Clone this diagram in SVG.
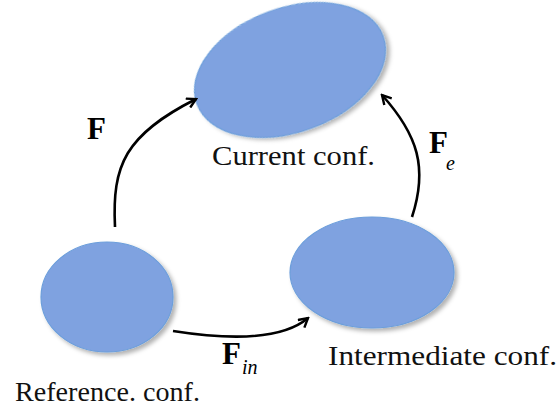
<svg xmlns="http://www.w3.org/2000/svg" width="560" height="416" viewBox="0 0 560 416">
<style>
.node{fill:#7FA2E0;stroke:#6C9EDB;stroke-width:1.2;filter:url(#sh)}
.lbl{font-family:"Liberation Serif","Times New Roman",serif;font-size:26.5px;fill:#111}
.bf{font-family:"Liberation Serif","Times New Roman",serif;font-weight:bold;font-size:31px;fill:#000}
.sub{font-family:"Liberation Serif","Times New Roman",serif;font-style:italic;font-size:20px;fill:#000}
.edge{fill:none;stroke:#000;stroke-width:2.6;marker-end:url(#ah)}
</style>
<defs>
<filter id="sh" x="-20%" y="-20%" width="140%" height="140%">
<feDropShadow dx="3" dy="3" stdDeviation="2.2" flood-color="#000" flood-opacity="0.3"/>
</filter>
<marker id="ah" viewBox="0 0 12 12" refX="10" refY="6" markerWidth="12" markerHeight="12" markerUnits="userSpaceOnUse" orient="auto">
<path d="M1,1 L10,6 L1,11" fill="none" stroke="#000" stroke-width="2.4"/>
</marker>
</defs>
<rect width="560" height="416" fill="#fff"/>
<g id="current">
<ellipse class="node" cx="290" cy="70" rx="99" ry="62" transform="rotate(-20 290 70)"/>
<text class="lbl" x="212" y="165" textLength="163" lengthAdjust="spacingAndGlyphs">Current conf.</text>
</g>
<g id="reference">
<ellipse class="node" cx="107" cy="297" rx="66" ry="55"/>
<text class="lbl" x="15" y="401" textLength="185" lengthAdjust="spacingAndGlyphs">Reference. conf.</text>
</g>
<g id="intermediate">
<ellipse class="node" cx="372" cy="272.5" rx="82" ry="55.5"/>
<text class="lbl" x="328" y="365" textLength="229" lengthAdjust="spacingAndGlyphs">Intermediate conf.</text>
</g>
<g id="connectors">
<path class="edge" d="M115,227 C112,165 125,135 196,99"/>
<path class="edge" d="M412,217 C428,168 418,135 382,95"/>
<path class="edge" d="M173,331 C230,340 282,340 308,318"/>
<text class="bf" x="87" y="139">F</text>
<text class="bf" x="429" y="153">F</text><text class="sub" x="446" y="170">e</text>
<text class="bf" x="222" y="364">F</text><text class="sub" x="242" y="374">in</text>
</g>
</svg>
